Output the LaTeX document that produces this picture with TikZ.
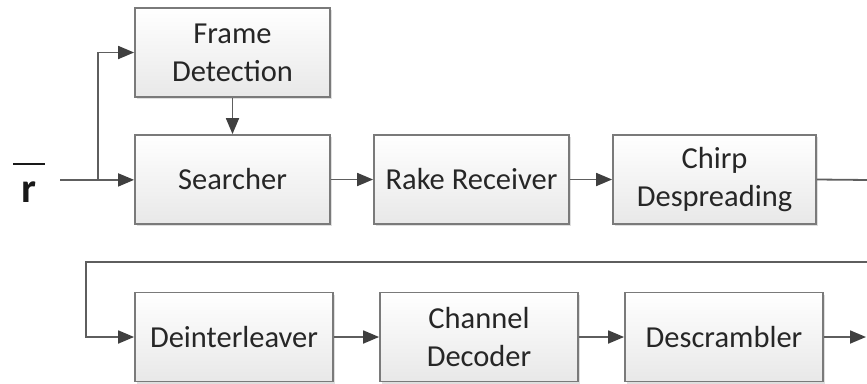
\documentclass[tikz,border=0pt]{standalone}
\usepackage{fontspec}
\setmainfont{Carlito}
\usepackage{tikz}
\usetikzlibrary{shapes,arrows.meta,positioning,shadows,calc}

\definecolor{wirecol}{HTML}{5E5E5E}
\definecolor{tipcol}{HTML}{3F3F3F}
\definecolor{framecol}{HTML}{7A7A7A}

\begin{document}
\begin{tikzpicture}[x=1pt,y=-1pt,
			block/.style={draw=framecol,line width=1.8pt,rectangle,
				top color=white,bottom color=black!9,
				drop shadow={shadow xshift=2pt,shadow yshift=-2pt,opacity=0.25},
				minimum height=89pt,inner sep=0pt,align=center,
				font=\fontsize{30.5}{38}\selectfont,text=black!85},
			wire/.style={draw=wirecol,line width=1.8pt},
			flow/.style={wire,-{Triangle[length=16pt,width=13pt,fill=tipcol,color=tipcol]}}
		]
		\useasboundingbox (0,0) rectangle (867,383);

		% upper row
		\node[block,minimum width=195pt] (frame) at (232.5,52.5) {Frame\\Detection};
		\node[block,minimum width=195pt] (search) at (232.5,179.5) {Searcher};
		\node[block,minimum width=195pt] (rake) at (471.5,179.5) {Rake Receiver};
		\node[block,minimum width=203pt] (chirp) at (714.5,179.5) {Chirp\\Despreading};

		% lower row
		\node[block,minimum width=198pt] (deint) at (234,337) {Deinterleaver};
		\node[block,minimum width=198pt] (decod) at (479,337) {Channel\\Decoder};
		\node[block,minimum width=198pt] (descr) at (724,337) {Descrambler};

		% input symbol
		\node[inner sep=0pt,align=center,font=\fontsize{42}{38}\selectfont\bfseries,text=black!90] (r) at (29,183)
			{\rule{32pt}{1.6pt}\\r};

		\coordinate (in) at (60,180);
		\coordinate (split) at (98,180);
		\coordinate (back1) at (869,180);
		\coordinate (back2) at (869,262);
		\coordinate (back3) at (86,262);
		\coordinate (out) at (866,337);

		\draw[wire] (in) -- (split);
		\draw[flow] (split) -- (search);
		\draw[flow] (split) |- (frame);
		\draw (frame) edge[flow] (search);
		\draw (search) edge[flow] (rake);
		\draw (rake) edge[flow] (chirp);

		% wrap round to the second row
		\draw[flow] (chirp.east) -- (back1) -- (back2) -- (back3) |- (deint.west);
		\draw (deint) edge[flow] (decod);
		\draw (decod) edge[flow] (descr);
		\draw[flow] (descr) -- (out);

	\end{tikzpicture}
\end{document}
